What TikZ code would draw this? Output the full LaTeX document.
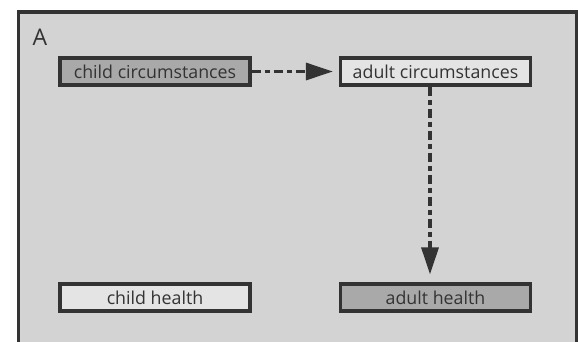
\documentclass[tikz,border=0pt]{standalone}
\usepackage{fontspec}
\setmainfont{Open Sans}
\usetikzlibrary{arrows.meta}
\definecolor{bgc}{HTML}{D3D3D3}
\definecolor{darkfill}{HTML}{A9A9A9}
\definecolor{lightfill}{HTML}{E4E4E4}
\definecolor{linec}{HTML}{333333}
\tikzset{
  box/.style={draw=linec, line width=3.2pt, minimum width=190pt, minimum height=27pt, inner sep=0pt, text=linec, font=\fontsize{17.8}{20}\selectfont},
  darkbox/.style={box, fill=darkfill},
  lightbox/.style={box, fill=lightfill},
  conn/.style={draw=linec, line width=3.2pt, dash pattern=on 9pt off 4pt on 5pt off 4pt, -{Triangle[length=27pt,width=17pt]}, shorten >=6pt}
}
\begin{document}
\begin{tikzpicture}[x=1pt,y=-1pt]
\useasboundingbox (0,0) rectangle (578,341);
\fill[white] (0,0) rectangle (578,341);
\draw[draw=linec, fill=bgc, line width=3.5pt] (18.5,12) rectangle (577,360);
\node[text=linec, font=\fontsize{23}{25}\selectfont, anchor=center] (lbl) at (40,37) {A};
\node[darkbox] (cc) at (155,71.5) {child circumstances};
\node[lightbox] (ac) at (435.5,71.5) {adult circumstances};
\node[lightbox] (ch) at (155,297.5) {child health};
\node[darkbox] (ah) at (435.5,297.5) {adult health};
\draw[conn] (cc.east) -- (ac.west);
\draw[conn, shorten >=8pt] (ac.south -| 430,0) -- (ah.north -| 430,0);
\end{tikzpicture}
\end{document}
